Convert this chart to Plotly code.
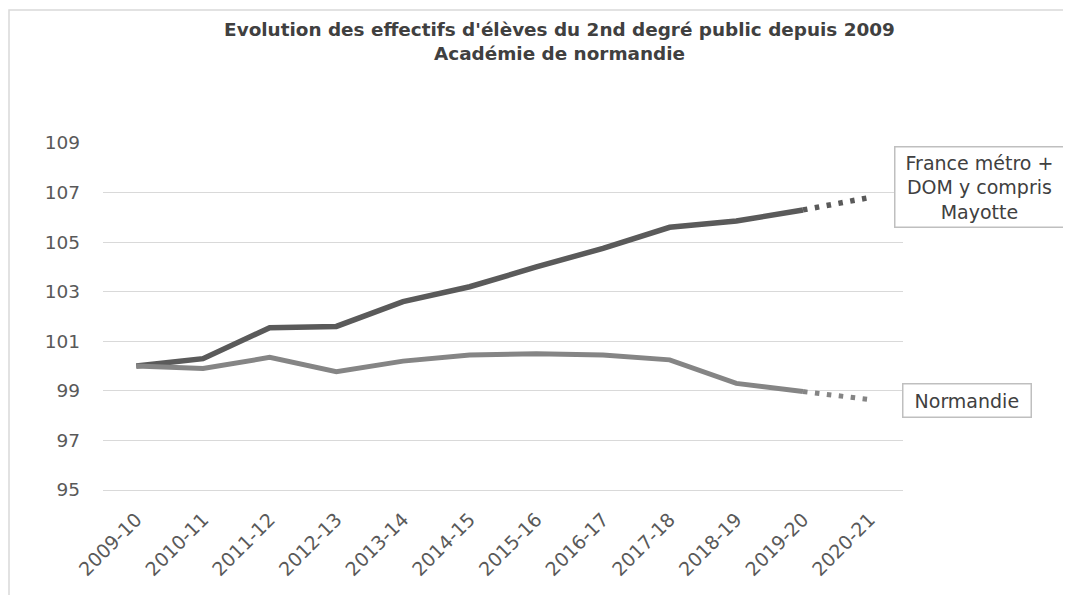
import plotly.graph_objects as go

categories = ["2009-10", "2010-11", "2011-12", "2012-13", "2013-14", "2014-15",
              "2015-16", "2016-17", "2017-18", "2018-19", "2019-20", "2020-21"]
france = [100.0, 100.3, 101.55, 101.6, 102.6, 103.2, 104.0, 104.75, 105.6, 105.85, 106.3, 106.8]
normandie = [100.0, 99.9, 100.35, 99.77, 100.2, 100.45, 100.5, 100.45, 100.25, 99.3, 98.97, 98.65]
y_ticks = [95, 97, 99, 101, 103, 105, 107, 109]

label_france = ["France métro +", "DOM y compris", "Mayotte"]
label_normandie = "Normandie"
title_lines = ["Evolution des effectifs d'élèves du 2nd degré public depuis 2009",
               "Académie de normandie"]

FONT = "DejaVu Sans, Liberation Sans, Arial, sans-serif"
c_france = "#5a5a5a"
c_norm = "#858585"
n_obs = 11  # observed points; last point is a projection (dotted)

# page has an 8px body margin: figure is 1063x587 drawn at (8, 8)
OFF = 8
W, H = 1071 - OFF, 595 - OFF
PL, PR, PT, PB = 103, 903, 143, 490  # plot area in page pixels

NB = "\u00a0"

fig = go.Figure()
fig.add_trace(go.Scatter(x=categories[:n_obs], y=france[:n_obs], mode="lines",
                         line=dict(color=c_france, width=5.5), hoverinfo="skip"))
fig.add_trace(go.Scatter(x=categories[n_obs - 1:], y=france[n_obs - 1:], mode="lines",
                         line=dict(color=c_france, width=5.5, dash="4.5px,7.5px"), hoverinfo="skip"))
fig.add_trace(go.Scatter(x=categories[:n_obs], y=normandie[:n_obs], mode="lines",
                         line=dict(color=c_norm, width=5), hoverinfo="skip"))
fig.add_trace(go.Scatter(x=categories[n_obs - 1:], y=normandie[n_obs - 1:], mode="lines",
                         line=dict(color=c_norm, width=5, dash="4.5px,7.5px"), hoverinfo="skip"))

fig.update_layout(
    width=W, height=H,
    margin=dict(l=PL - OFF, r=1071 - PR, t=PT - OFF, b=595 - PB),
    paper_bgcolor="white", plot_bgcolor="white",
    showlegend=False,
    font=dict(family=FONT, color="#595959"),
    title=dict(text="<b>" + "<br>".join(title_lines) + "</b>",
               x=(559.5 - OFF) / W, xanchor="center",
               y=1 - 28 / H, yanchor="top",
               font=dict(size=18.4, color="#404040", family=FONT)),
)
fig.update_xaxes(type="category", categoryorder="array", categoryarray=categories,
                 range=[-0.5, len(categories) - 0.5],
                 showgrid=False, showline=True, linecolor="#d9d9d9", linewidth=1,
                 ticks="", tickangle=-45, tickfont=dict(size=19, color="#595959"),
                 ticklabelstandoff=10)
fig.update_yaxes(range=[95, 109], tickvals=y_ticks, ticktext=[str(v) for v in y_ticks],
                 showgrid=True, gridcolor="#d9d9d9", gridwidth=1, zeroline=False,
                 showline=False, ticks="", tickfont=dict(size=18.5, color="#595959"),
                 ticklabelstandoff=22)

pw, ph = PR - PL, PB - PT
fig.add_annotation(text="<br>".join(NB + s + NB for s in label_france),
                   xref="paper", yref="paper",
                   x=(979 - PL) / pw, y=(PB - 187) / ph, xanchor="center", yanchor="middle",
                   showarrow=False, align="center",
                   font=dict(size=19, color="#404040", family=FONT),
                   bordercolor="#bfbfbf", borderwidth=1.5, borderpad=4, bgcolor="white")
fig.add_annotation(text=NB + label_normandie + NB, xref="paper", yref="paper",
                   x=(967 - PL) / pw, y=(PB - 400) / ph, xanchor="center", yanchor="middle",
                   showarrow=False, align="center",
                   font=dict(size=19, color="#404040", family=FONT),
                   bordercolor="#bfbfbf", borderwidth=1.5, borderpad=5, bgcolor="white")

# outer chart frame (partially visible)
fig.add_shape(type="rect", xref="paper", yref="paper",
              x0=(9 - PL) / pw, x1=(1100 - PL) / pw,
              y0=(PB - 620) / ph, y1=(PB - 10) / ph,
              line=dict(color="#d9d9d9", width=1.5), layer="below")

fig.write_html("out.html")
